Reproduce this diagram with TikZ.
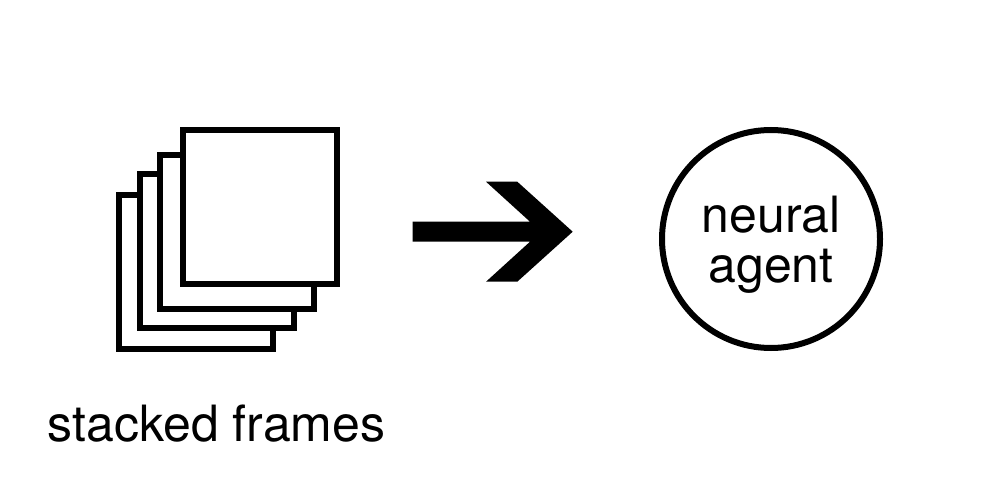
\documentclass[tikz,border=0pt]{standalone}
\usepackage{fontspec}
\setmainfont{TeX Gyre Heros}
\usetikzlibrary{positioning}
\begin{document}
\begin{tikzpicture}[x=1pt,y=-1pt,
    frame/.style={draw, line width=6pt, fill=white, minimum width=154pt, minimum height=154pt, inner sep=0pt, outer sep=0pt},
    agent/.style={draw, circle, line width=6pt, minimum size=218pt, inner sep=0pt, outer sep=0pt},
    caption/.style={font=\fontsize{50}{50}\selectfont, inner sep=0pt, align=center},
]
    \useasboundingbox (0,0) rectangle (1000,500);

    % Stacked frames
    \node[frame] (frame1) at (196,271.7) {};
    \node[frame] (frame2) at (216.8,251) {};
    \node[frame] (frame3) at (237,232) {};
    \node[frame] (frame4) at (260,207) {};
    \node[caption] (label) at (216.5,424) {stacked frames};

    % Agent
    \node[agent] (agent) at (771,239) {};
    \node[caption] (agentlabel) at (771,245) {neural\\agent};

    % Big arrow
    \fill[black] (412.7,221.7) -- (530,221.7) -- (486,181.7) -- (517.3,181.7) -- (572.7,231.7) -- (517.3,281.7) -- (486,281.7) -- (530,241.7) -- (412.7,241.7) -- cycle;
\end{tikzpicture}
\end{document}
